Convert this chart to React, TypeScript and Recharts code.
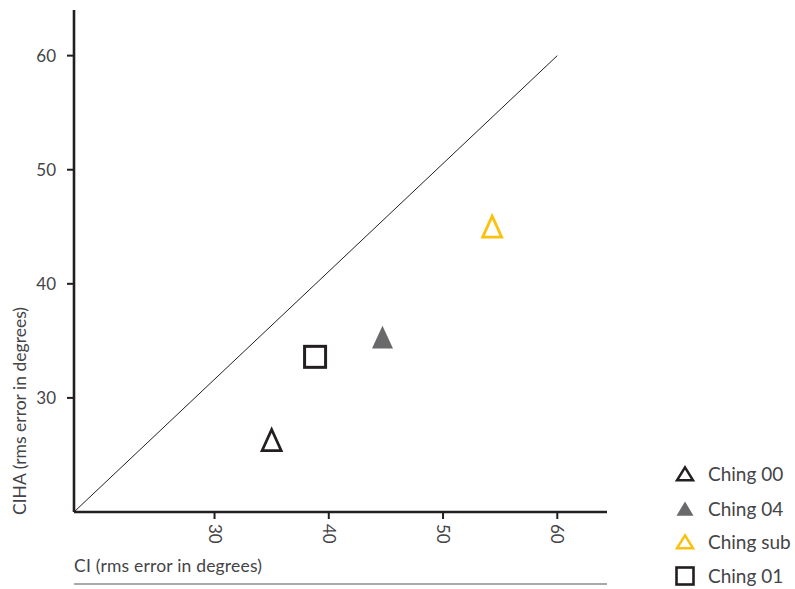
import React from 'react';
import { ScatterChart, Scatter, XAxis, YAxis, ReferenceLine } from 'recharts';

// rms error (degrees) per method: CI on x, CIHA on y
const seriesNames = ['Ching 00', 'Ching 04', 'Ching sub', 'Ching 01'];
const ciErrors = [35.0, 44.7, 54.3, 38.8];
const cihaErrors = [26.0, 35.0, 44.7, 33.6];
const axisTicks = [30, 40, 50, 60];

type MarkerKind = 'triangle' | 'filledTriangle' | 'square';

const markerStyles: { kind: MarkerKind; color: string }[] = [
    { kind: 'triangle', color: '#231f20' },
    { kind: 'filledTriangle', color: '#69696c' },
    { kind: 'triangle', color: '#fcc10f' },
    { kind: 'square', color: '#231f20' },
];

const FONT = 'Lato, "Open Sans", sans-serif';
const TEXT_COLOR = '#444447';
const AXIS_COLOR = '#231f20';

const X_DOMAIN: [number, number] = [17.7, 64.35];
const Y_DOMAIN: [number, number] = [20, 64.0];

// triangles are placed by their centroid, squares by their centre
const drawMarker = (kind: MarkerKind, color: string, cx: number, cy: number, small = false) => {
    if (kind === 'square') {
        const s = small ? 17 : 21;
        return <rect x={cx - s / 2} y={cy - s / 2} width={s} height={s} fill="#fff" stroke={color} strokeWidth={small ? 2.6 : 3} />;
    }
    const filled = kind === 'filledTriangle';
    const w = small ? (filled ? 17 : 16) : filled ? 21 : 19;
    const h = small ? (filled ? 14.3 : 13) : filled ? 22.7 : 21;
    const pts = `${cx},${cy - (2 * h) / 3} ${cx - w / 2},${cy + h / 3} ${cx + w / 2},${cy + h / 3}`;
    return filled ? (
        <polygon points={pts} fill={color} />
    ) : (
        <polygon points={pts} fill="none" stroke={color} strokeWidth={small ? 2.5 : 2.8} strokeLinejoin="miter" />
    );
};

const XTick = (props: any) => {
    const { x, y, payload } = props;
    return (
        <text x={x} y={y} transform={`rotate(90 ${x} ${y})`} textAnchor="start" dy="0.35em" fontSize={17} fill={TEXT_COLOR} fontFamily={FONT}>
            {payload.value}
        </text>
    );
};

const App: React.FC = () => {
    const legendRows = [474, 509, 542, 576];

    return (
        <div style={{ position: 'absolute', left: 0, top: 0, background: '#fff' }}>
            <ScatterChart width={795} height={589} margin={{ top: 10, right: 188, left: 0, bottom: 0 }}>
                <XAxis
                    type="number"
                    dataKey="x"
                    domain={X_DOMAIN}
                    ticks={axisTicks}
                    allowDataOverflow
                    height={77}
                    tickSize={7}
                    tickMargin={5}
                    stroke={AXIS_COLOR}
                    axisLine={{ stroke: AXIS_COLOR, strokeWidth: 2.6 }}
                    tickLine={{ stroke: AXIS_COLOR, strokeWidth: 2 }}
                    tick={<XTick />}
                />
                <YAxis
                    type="number"
                    dataKey="y"
                    domain={Y_DOMAIN}
                    ticks={axisTicks}
                    allowDataOverflow
                    width={74}
                    tickSize={7}
                    tickMargin={11}
                    stroke={AXIS_COLOR}
                    axisLine={{ stroke: AXIS_COLOR, strokeWidth: 2.6 }}
                    tickLine={{ stroke: AXIS_COLOR, strokeWidth: 2 }}
                    tick={{ fill: TEXT_COLOR, fontSize: 17, fontFamily: FONT }}
                />
                <ReferenceLine
                    segment={[{ x: X_DOMAIN[0], y: Y_DOMAIN[0] }, { x: 60, y: 60 }]}
                    stroke="#231f20"
                    strokeWidth={1}
                    ifOverflow="visible"
                />
                {seriesNames.map((name, i) => (
                    <Scatter
                        key={name}
                        name={name}
                        data={[{ x: ciErrors[i], y: cihaErrors[i] }]}
                        isAnimationActive={false}
                        shape={(p: any) => drawMarker(markerStyles[i].kind, markerStyles[i].color, p.cx, p.cy)}
                    />
                ))}

                {/* axis titles */}
                <text x={74} y={572} fontSize={17.5} fill={TEXT_COLOR} fontFamily={FONT} textLength={188} lengthAdjust="spacing">
                    CI (rms error in degrees)
                </text>
                <line x1={74} x2={607} y1={584} y2={584} stroke="#555" strokeWidth={1.2} />
                <text
                    x={20}
                    y={411}
                    transform="rotate(-90 20 411)"
                    textAnchor="middle"
                    dy="0.35em"
                    fontSize={17.5}
                    fill={TEXT_COLOR}
                    fontFamily={FONT}
                >
                    CIHA (rms error in degrees)
                </text>

                {/* legend */}
                {seriesNames.map((name, i) => {
                    const cy = legendRows[i];
                    const isTri = markerStyles[i].kind !== 'square';
                    return (
                        <g key={`legend-${name}`}>
                            {drawMarker(markerStyles[i].kind, markerStyles[i].color, 685, isTri ? cy + 2 : cy, true)}
                            <text x={708} y={cy} dy="0.35em" fontSize={19} fill={TEXT_COLOR} fontFamily={FONT}>
                                {name}
                            </text>
                        </g>
                    );
                })}
            </ScatterChart>
        </div>
    );
};

export default App;
